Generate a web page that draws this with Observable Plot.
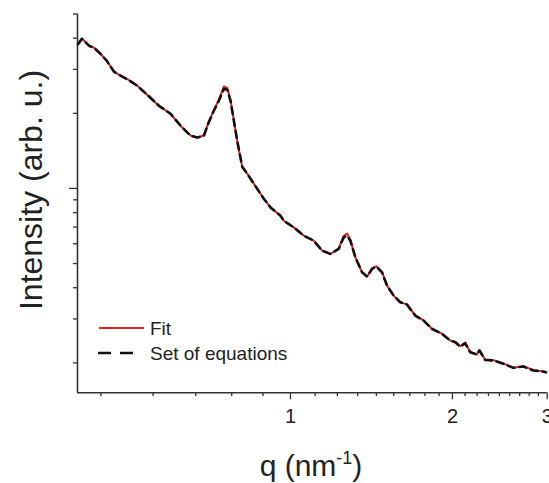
<!DOCTYPE html>
<html>
<head>
<meta charset="utf-8">
<script src="https://cdn.jsdelivr.net/npm/d3@7"></script>
<script src="https://cdn.jsdelivr.net/npm/@observablehq/plot@0.6"></script>
<style>
  html, body { margin: 0; padding: 0; background: #fff; }
  #chart svg { display: block; }
</style>
</head>
<body>
<div id="chart"></div>
<script>
// ---- data ----
const q = [0.403,0.4096,0.4226,0.4317,0.4442,0.4557,0.4702,0.4838,0.4977,0.5194,
           0.5421,0.5697,0.5987,0.625,0.6522,0.6711,0.6903,0.7044,0.7205,0.7361,
           0.752,0.763,0.7738,0.7962,0.8134,0.8312,0.8672,0.8923,0.918,0.9582,
           0.9718,1.0142,1.0585,1.1047,1.145,1.1865,1.2292,1.2558,1.2741,1.2922,
           1.3202,1.3586,1.3879,1.4179,1.4443,1.4797,1.5117,1.555,1.5999,1.6463,
           1.7057,1.7673,1.832,1.9118,1.9808,2.0236,2.0674,2.1121,2.1577,2.2203,
           2.245,2.3005,2.3835,2.4874,2.5963,2.7096,2.828,2.9309,2.9854];
const equations = [3.785,3.975,3.727,3.659,3.452,3.245,2.933,2.826,2.737,2.577,
           2.372,2.143,1.991,1.782,1.626,1.600,1.626,1.832,2.047,2.244,
           2.507,2.484,2.244,1.552,1.221,1.145,0.997,0.9095,0.8393,0.7775,
           0.7425,0.698,0.6466,0.6175,0.5632,0.5463,0.5721,0.6366,0.6466,0.6175,
           0.5294,0.4611,0.4431,0.4758,0.4861,0.4611,0.4078,0.3718,0.3498,0.3424,
           0.3093,0.2954,0.2736,0.2613,0.2456,0.2418,0.2324,0.2396,0.2206,0.2159,
           0.224,0.2056,0.2043,0.1982,0.191,0.1933,0.1863,0.1851,0.1834];
const fit = [3.79,3.99,3.73,3.66,3.45,3.25,2.93,2.83,2.74,2.58,
           2.37,2.14,1.99,1.78,1.63,1.60,1.63,1.84,2.06,2.27,
           2.56,2.53,2.26,1.55,1.22,1.145,0.997,0.909,0.839,0.777,
           0.742,0.698,0.647,0.618,0.563,0.546,0.574,0.645,0.660,0.622,
           0.529,0.461,0.443,0.478,0.488,0.462,0.408,0.372,0.350,0.343,
           0.310,0.296,0.274,0.262,0.246,0.243,0.233,0.241,0.221,0.216,
           0.225,0.206,0.205,0.199,0.191,0.194,0.187,0.185,0.1834];

const xDomain = [0.402, 3];
const yDomain = [0.1517, 5];
const xMajorTicks = [1, 2, 3];
const xMinorTicks = [4/9, 5/9, 6/9, 7/9, 8/9,
                     1+1/9, 1+2/9, 1+3/9, 1+4/9, 1+5/9, 1+6/9, 1+7/9, 1+8/9,
                     2+1/9, 2+2/9, 2+3/9, 2+4/9, 2+5/9, 2+6/9, 2+7/9, 2+8/9];
const yMajorTicks = [1];
const yMinorTicks = [0.2, 0.3, 0.4, 0.5, 0.6, 0.7, 0.8, 0.9, 2, 3, 4, 5];
const seriesNames = ["Fit", "Set of equations"];
const xTitleMain = "q (nm";
const xTitleSup = "-1";
const xTitleEnd = ")";
const yTitle = "Intensity (arb. u.)";

const data = q.map((v, i) => ({q: v, fit: fit[i], eq: equations[i]}));
const axisColor = "#333";
const font = "'Liberation Sans', Arial, sans-serif";

const plot = Plot.plot({
  width: 549,
  height: 483,
  marginLeft: 77,
  marginRight: 2.3,
  marginTop: 13.5,
  marginBottom: 90.7,
  style: {fontFamily: font, fontSize: "20px", background: "white", color: "#222", overflow: "visible"},
  x: {type: "log", domain: xDomain, axis: null},
  y: {type: "log", domain: yDomain, axis: null},
  marks: [
    Plot.axisX(xMinorTicks, {tickSize: 3.7, tickFormat: () => "", stroke: axisColor, strokeWidth: 1.3, label: null}),
    Plot.axisX(xMajorTicks, {tickSize: 7, tickPadding: 9, fontSize: 20, stroke: axisColor, strokeWidth: 1.3,
                             tickFormat: d => String(d), fill: "#222", label: null}),
    Plot.axisY(yMinorTicks, {tickSize: 4, tickFormat: () => "", stroke: axisColor, strokeWidth: 1.3, label: null}),
    Plot.axisY(yMajorTicks, {tickSize: 8, tickFormat: () => "", stroke: axisColor, strokeWidth: 1.3, label: null}),
    Plot.ruleX([xDomain[0]], {stroke: axisColor, strokeWidth: 1.6}),
    Plot.ruleY([yDomain[0]], {stroke: axisColor, strokeWidth: 1.6}),
    Plot.line(data, {x: "q", y: "fit", stroke: "#ee1c1c", strokeWidth: 2}),
    Plot.line(data, {x: "q", y: "eq", stroke: "#111", strokeWidth: 2.6, strokeDasharray: "7,5"})
  ]
});

const svg = d3.select(plot);
// enlarge tick labels (Plot's axis text)
svg.selectAll("text").attr("font-size", 20).style("font-size", "20px").attr("fill", "#222");

// x title with superscript
const xt = svg.append("text")
  .attr("x", 311).attr("y", 476)
  .attr("text-anchor", "middle")
  .attr("font-family", font)
  .style("font-size", "30px")
  .attr("fill", "#222");
xt.append("tspan").text(xTitleMain);
xt.append("tspan").style("font-size", "18px").attr("dy", -12).text(xTitleSup);
xt.append("tspan").attr("dy", 12).text(xTitleEnd);

// y title
svg.append("text")
  .attr("transform", "translate(42,190) rotate(-90)")
  .attr("text-anchor", "middle")
  .attr("font-family", font)
  .style("font-size", "32px")
  .attr("fill", "#222")
  .text(yTitle);

// legend
const lg = svg.append("g").attr("font-family", font).style("font-size", "19px")
  .attr("fill", "#222").attr("text-anchor", "start");
lg.append("line").attr("x1", 99).attr("x2", 144).attr("y1", 328).attr("y2", 328)
  .attr("stroke", "#ee1c1c").attr("stroke-width", 2);
lg.append("text").attr("x", 150).attr("y", 335).attr("text-anchor", "start").text(seriesNames[0]);
lg.append("line").attr("x1", 98).attr("x2", 134).attr("y1", 353).attr("y2", 353)
  .attr("stroke", "#111").attr("stroke-width", 2.6).attr("stroke-dasharray", "13,9");
lg.append("text").attr("x", 150).attr("y", 360).attr("text-anchor", "start").text(seriesNames[1]);

document.getElementById("chart").appendChild(plot);
</script>
</body>
</html>
